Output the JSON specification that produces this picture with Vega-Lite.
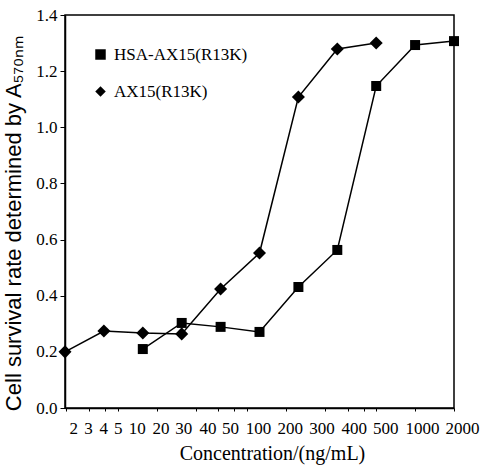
{
  "$schema": "https://vega.github.io/schema/vega-lite/v6.json",
  "width": 389,
  "height": 393,
  "autosize": "none",
  "padding": {"left": 65, "top": 15, "right": 27, "bottom": 58},
  "background": "white",
  "config": {
    "view": {"stroke": "black", "strokeWidth": 1.5},
    "font": "Liberation Serif",
    "axis": {
      "labelFont": "Liberation Serif",
      "labelFontSize": 17,
      "labelColor": "black",
      "grid": false,
      "domainColor": "black",
      "domainWidth": 1.5,
      "tickColor": "black",
      "titleColor": "black",
      "titleFontWeight": "normal"
    }
  },
  "data": {
    "values": [
      {"series": "AX15(R13K)", "conc": 1.953125, "rate": 0.200},
      {"series": "AX15(R13K)", "conc": 3.90625, "rate": 0.274},
      {"series": "AX15(R13K)", "conc": 7.8125, "rate": 0.267},
      {"series": "AX15(R13K)", "conc": 15.625, "rate": 0.264},
      {"series": "AX15(R13K)", "conc": 31.25, "rate": 0.424},
      {"series": "AX15(R13K)", "conc": 62.5, "rate": 0.552},
      {"series": "AX15(R13K)", "conc": 125, "rate": 1.108},
      {"series": "AX15(R13K)", "conc": 250, "rate": 1.279},
      {"series": "AX15(R13K)", "conc": 500, "rate": 1.300},
      {"series": "HSA-AX15(R13K)", "conc": 7.8125, "rate": 0.210},
      {"series": "HSA-AX15(R13K)", "conc": 15.625, "rate": 0.303},
      {"series": "HSA-AX15(R13K)", "conc": 31.25, "rate": 0.289},
      {"series": "HSA-AX15(R13K)", "conc": 62.5, "rate": 0.271},
      {"series": "HSA-AX15(R13K)", "conc": 125, "rate": 0.431},
      {"series": "HSA-AX15(R13K)", "conc": 250, "rate": 0.563},
      {"series": "HSA-AX15(R13K)", "conc": 500, "rate": 1.147},
      {"series": "HSA-AX15(R13K)", "conc": 1000, "rate": 1.293},
      {"series": "HSA-AX15(R13K)", "conc": 2000, "rate": 1.307}
    ]
  },
  "encoding": {
    "x": {
      "field": "conc",
      "type": "quantitative",
      "scale": {"type": "log", "domain": [1.953125, 2000], "nice": false},
      "axis": {
        "values": [2, 3, 4, 5, 10, 20, 30, 40, 50, 100, 200, 300, 400, 500, 1000, 2000],
        "format": "d",
        "grid": false,
        "tickSize": 3,
        "labelFont": "Liberation Serif",
        "labelFontSize": 17,
        "labelColor": "black",
        "labelPadding": 9,
        "labelOverlap": false,
        "labelFlush": false,
        "labelBound": false,
        "labelOffset": {
          "condition": [
            {"test": "datum.value == 2", "value": 7},
            {"test": "datum.value == 3", "value": -1},
            {"test": "datum.value == 4", "value": -2},
            {"test": "datum.value == 5", "value": 0},
            {"test": "datum.value == 10", "value": -20},
            {"test": "datum.value == 20", "value": -35},
            {"test": "datum.value == 30", "value": -35},
            {"test": "datum.value == 40", "value": -27},
            {"test": "datum.value == 50", "value": -17},
            {"test": "datum.value == 100", "value": -28},
            {"test": "datum.value == 200", "value": -35},
            {"test": "datum.value == 300", "value": -26},
            {"test": "datum.value == 400", "value": -10},
            {"test": "datum.value == 500", "value": 9},
            {"test": "datum.value == 1000", "value": 7},
            {"test": "datum.value == 2000", "value": 8}
          ],
          "value": 0
        },
        "title": "Concentration/(ng/mL)",
        "titleFont": "Liberation Serif",
        "titleFontSize": 20,
        "titleX": 207,
        "titleY": 35
      }
    },
    "y": {
      "field": "rate",
      "type": "quantitative",
      "scale": {"domain": [0, 1.4], "nice": false},
      "axis": {
        "values": [0, 0.2, 0.4, 0.6, 0.8, 1.0, 1.2, 1.4],
        "format": ".1f",
        "grid": false,
        "tickSize": 5,
        "labelFont": "Liberation Serif",
        "labelFontSize": 17,
        "labelColor": "black",
        "labelPadding": 3,
        "title": "Cell survival rate determined by A₅₇₀ₙₘ",
        "titleFont": "Liberation Sans",
        "titleFontSize": 22,
        "titleX": -40,
        "titleY": 208
      }
    }
  },
  "layer": [
    {
      "mark": {"type": "line", "color": "black", "strokeWidth": 1.5},
      "encoding": {"detail": {"field": "series"}}
    },
    {
      "transform": [{"filter": "datum.series == 'HSA-AX15(R13K)'"}],
      "mark": {"type": "point", "filled": true, "color": "black", "opacity": 1, "size": 100},
      "encoding": {
        "shape": {
          "field": "series",
          "type": "nominal",
          "scale": {"domain": ["HSA-AX15(R13K)", "AX15(R13K)"], "range": ["square", "diamond"]},
          "legend": {
            "orient": "none",
            "legendX": 27,
            "legendY": 31,
            "title": null,
            "labelFont": "Liberation Serif",
            "labelFontSize": 17,
            "labelColor": "black",
            "labelOffset": 5,
            "rowPadding": 19,
            "symbolSize": 110,
            "symbolFillColor": "black",
            "symbolStrokeColor": "black",
            "symbolStrokeWidth": 0
          }
        }
      }
    },
    {
      "transform": [{"filter": "datum.series == 'AX15(R13K)'"}],
      "mark": {"type": "point", "filled": true, "color": "black", "opacity": 1, "size": 170},
      "encoding": {
        "shape": {
          "field": "series",
          "type": "nominal",
          "scale": {"domain": ["HSA-AX15(R13K)", "AX15(R13K)"], "range": ["square", "diamond"]}
        }
      }
    }
  ]
}
